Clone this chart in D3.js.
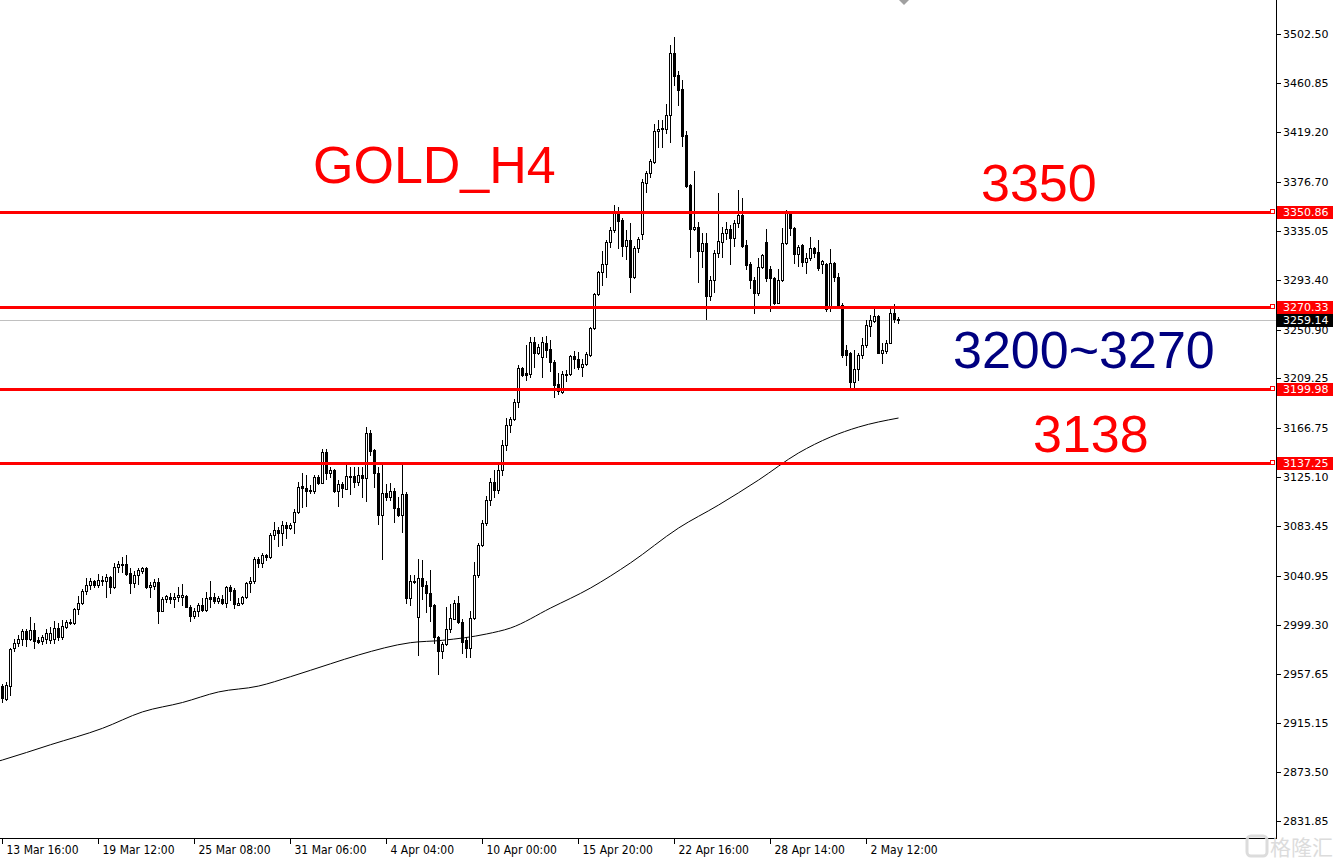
<!DOCTYPE html>
<html><head><meta charset="utf-8">
<script src="https://cdn.jsdelivr.net/npm/d3@7/dist/d3.min.js"></script>
<style>
html,body{margin:0;padding:0;background:#fff;}
svg{display:block;}
</style></head><body>
<svg id="chart" width="1338" height="861"></svg>
<script>
// ---------------- DATA ----------------
const open = [2947.0,2935.9,2947.3,2979.2,2983.4,2987.3,2994.2,2987.3,2994.8,2986.2,2985.2,2986.8,2986.2,2986.8,2996.5,2989.1,2997.6,3000.7,3000.5,3012.4,
3017.5,3027.8,3032.9,3036.3,3032.9,3037.4,3036.3,3039.7,3031.7,3048.2,3050.4,3051.0,3043.1,3035.1,3041.4,3045.3,3047.6,3031.2,3032.5,3035.7,
3011.2,3020.9,3022.6,3021.5,3022.6,3023.2,3023.7,3014.6,3006.7,3011.0,3015.8,3011.8,3022.6,3022.6,3019.7,3021.5,3018.0,3031.2,3028.9,3016.1,
3017.5,3022.6,3034.6,3036.3,3055.0,3052.1,3058.4,3056.7,3075.5,3080.0,3077.2,3084.0,3081.5,3087.1,3095.1,3117.5,3115.6,3113.0,3113.3,3124.9,
3120.3,3146.3,3128.3,3131.2,3113.5,3119.0,3115.2,3124.9,3126.0,3121.2,3126.9,3124.1,3162.4,3148.2,3128.9,3092.8,3111.3,3107.9,3113.3,3098.5,
3092.8,3110.7,3022.3,3035.7,3005.6,3038.8,3033.1,3026.6,3016.1,2988.5,2977.1,2982.8,2995.3,3004.4,3018.0,3001.8,2986.2,2979.2,3005.0,3041.7,
3067.2,3086.3,3105.6,3120.9,3114.1,3131.2,3152.5,3169.5,3174.4,3189.4,3217.9,3214.1,3213.0,3240.0,3230.6,3227.2,3239.2,3234.0,3223.5,3204.5,
3197.9,3212.4,3213.0,3228.3,3225.5,3219.2,3221.5,3229.2,3252.0,3280.9,3299.7,3306.8,3325.5,3335.8,3351.4,3344.3,3322.1,3327.2,3295.9,3320.2,
3332.1,3376.1,3384.6,3394.0,3420.2,3421.6,3421.9,3433.8,3486.4,3467.9,3455.7,3416.7,3374.1,3336.4,3338.1,3318.1,3324.4,3279.5,3293.1,3315.9,
3325.8,3332.9,3336.4,3328.7,3341.5,3348.6,3323.0,3306.8,3293.1,3282.3,3303.9,3325.8,3302.3,3294.6,3273.8,3293.1,3324.4,3350.0,3337.2,3315.3,
3323.0,3308.7,3311.6,3320.2,3317.3,3306.8,3306.8,3269.0,3307.4,3295.4,3271.8,3233.5,3230.6,3206.3,3217.0,3229.0,3237.7,3253.9,3258.4,3262.4,
3231.2,3232.8,3239.7,3264.7,3259.8];
const high = [2948.7,2950.7,2979.7,2986.8,2990.5,2995.3,2995.3,3005.6,3000.5,2989.1,2990.5,2995.3,2997.1,3002.4,3000.5,3003.3,3003.3,3004.1,3013.5,3023.7,
3029.5,3039.1,3039.1,3037.4,3042.5,3040.8,3042.5,3040.8,3052.1,3053.3,3057.3,3058.7,3047.4,3045.3,3047.4,3048.2,3048.2,3035.7,3038.0,3038.8,
3023.2,3024.6,3026.6,3026.1,3031.7,3033.8,3024.6,3016.1,3013.3,3017.5,3021.8,3027.4,3036.5,3026.6,3023.7,3024.6,3032.3,3032.9,3030.3,3021.8,
3023.7,3036.0,3040.3,3057.3,3057.3,3060.1,3059.5,3077.2,3087.1,3082.8,3087.9,3087.1,3085.7,3097.9,3120.7,3128.3,3126.9,3118.4,3126.9,3126.9,
3148.8,3148.8,3134.0,3132.0,3122.6,3121.2,3136.9,3134.0,3134.0,3134.0,3134.0,3167.6,3165.3,3148.8,3134.0,3136.9,3119.2,3119.8,3115.6,3108.4,
3136.9,3112.7,3041.7,3041.7,3055.0,3054.4,3036.8,3045.9,3016.9,2989.7,2984.8,3014.6,3016.9,3020.3,3023.7,3003.9,2988.5,3011.2,3053.0,3069.2,
3088.5,3109.0,3124.3,3131.2,3135.4,3156.7,3175.2,3176.6,3191.4,3220.7,3219.2,3237.7,3244.8,3244.8,3238.6,3244.3,3245.4,3242.0,3224.9,3213.6,
3215.8,3216.4,3229.2,3232.9,3232.0,3225.5,3231.8,3253.3,3282.3,3301.1,3318.1,3327.2,3338.6,3357.1,3355.1,3345.7,3335.8,3342.0,3322.1,3329.5,
3379.0,3386.3,3396.0,3425.9,3429.5,3429.5,3443.2,3493.5,3500.0,3471.6,3463.6,3420.4,3375.0,3386.3,3342.8,3333.5,3333.5,3296.5,3318.7,3367.6,
3338.6,3342.8,3340.0,3344.3,3369.9,3362.8,3327.2,3308.7,3295.9,3311.6,3315.3,3336.4,3305.0,3295.9,3302.3,3337.2,3352.8,3352.0,3338.5,3323.0,
3323.8,3315.9,3329.5,3321.5,3327.2,3310.2,3307.4,3319.3,3308.7,3298.8,3273.3,3237.7,3231.8,3233.5,3230.6,3243.4,3259.0,3263.3,3268.2,3263.3,
3239.2,3242.0,3269.0,3272.7,3261.3];
const low = [2933.6,2935.1,2939.4,2977.1,2981.1,2982.2,2981.1,2986.2,2979.1,2983.4,2982.8,2983.4,2984.0,2983.4,2986.2,2987.3,2996.5,2999.9,3000.0,3008.4,
3016.9,3025.5,3029.5,3031.2,3031.2,3033.1,3023.2,3026.3,3030.3,3044.2,3044.2,3041.4,3026.6,3031.2,3034.0,3043.6,3030.6,3022.6,3029.7,3000.5,
3011.0,3018.9,3018.0,3014.6,3019.7,3016.1,3014.0,3002.7,3005.0,3006.7,3011.0,3011.2,3014.6,3018.0,3018.0,3016.9,3014.1,3020.3,3013.3,3015.8,
3016.9,3022.0,3027.4,3034.6,3048.7,3048.2,3054.4,3055.9,3072.1,3066.4,3067.3,3072.9,3080.6,3077.2,3094.3,3099.9,3100.5,3111.3,3111.8,3119.5,
3119.8,3123.5,3124.9,3112.8,3100.5,3107.9,3114.7,3110.7,3116.9,3118.4,3108.4,3105.0,3143.9,3116.9,3085.1,3055.0,3105.6,3105.6,3087.1,3092.0,
3078.6,3018.0,3016.1,3034.6,2973.4,3020.9,3010.3,3002.7,2983.4,2957.2,2970.6,2982.0,2993.3,3003.9,3001.0,2975.4,2971.5,2971.5,3003.9,3040.2,
3066.4,3084.3,3101.3,3108.2,3111.6,3126.9,3148.2,3163.6,3173.8,3185.1,3211.3,3207.9,3210.7,3219.2,3230.1,3210.2,3227.8,3215.8,3193.6,3195.9,
3197.0,3207.3,3212.2,3217.9,3217.0,3211.6,3220.4,3228.5,3251.1,3280.3,3288.9,3295.9,3321.0,3334.3,3320.2,3313.6,3311.3,3283.2,3294.6,3317.3,
3327.8,3368.4,3380.7,3393.1,3406.8,3406.3,3418.2,3411.0,3459.4,3442.3,3407.4,3372.5,3313.0,3335.5,3291.8,3304.5,3259.6,3276.1,3283.2,3313.0,
3313.0,3327.8,3306.8,3322.1,3338.6,3321.5,3302.3,3286.1,3264.7,3280.3,3303.1,3292.0,3266.9,3273.0,3273.3,3292.5,3323.8,3331.5,3307.4,3305.1,
3305.1,3299.3,3310.2,3313.0,3301.6,3299.3,3266.9,3266.9,3292.5,3269.0,3227.8,3220.7,3201.6,3200.8,3207.9,3226.4,3235.7,3245.4,3257.6,3230.6,
3222.6,3230.6,3239.2,3257.6,3256.7];
const close = [2936.5,2947.6,2978.6,2983.4,2987.3,2993.6,2987.3,2994.8,2985.2,2984.8,2988.6,2992.0,2992.5,2996.5,2989.1,2998.2,3001.6,3001.3,3012.4,3018.0,
3027.8,3032.9,3036.3,3032.9,3037.4,3036.3,3039.7,3031.7,3048.2,3051.0,3051.0,3042.5,3035.1,3041.7,3045.9,3047.4,3031.2,3033.1,3035.7,3011.2,
3021.5,3023.7,3021.5,3022.6,3024.6,3024.6,3014.6,3006.7,3011.0,3015.8,3011.8,3021.8,3020.9,3019.7,3021.8,3018.0,3031.2,3028.3,3016.7,3018.0,
3022.6,3034.6,3036.3,3055.0,3052.1,3058.4,3056.7,3075.5,3080.0,3077.2,3084.0,3081.5,3084.0,3095.1,3116.9,3115.6,3113.5,3114.1,3124.9,3120.3,
3146.8,3128.3,3131.2,3113.5,3119.0,3115.6,3126.0,3126.0,3121.2,3126.9,3124.1,3162.4,3147.6,3128.9,3092.8,3111.3,3107.9,3113.3,3098.5,3092.8,
3110.7,3022.3,3036.8,3036.8,3038.8,3032.3,3026.1,3015.2,2988.5,2977.1,2982.8,2995.3,3004.7,3018.0,3001.8,2984.8,2979.2,3005.0,3041.7,3067.2,
3086.3,3105.6,3120.9,3114.1,3131.2,3152.5,3169.5,3174.4,3189.4,3217.9,3212.2,3212.2,3240.0,3230.6,3236.3,3240.0,3233.5,3223.5,3203.6,3198.8,
3213.0,3213.0,3228.3,3225.5,3219.2,3221.5,3230.1,3252.5,3281.2,3300.2,3306.8,3325.5,3335.8,3351.4,3343.7,3322.1,3327.2,3295.9,3320.2,3327.8,
3377.0,3384.6,3394.6,3420.2,3421.9,3422.7,3433.8,3486.4,3467.3,3455.1,3415.9,3373.3,3336.4,3338.1,3318.1,3324.4,3279.5,3293.1,3315.9,3326.6,
3333.5,3336.4,3328.7,3341.5,3348.6,3322.1,3305.9,3293.1,3282.3,3303.9,3314.4,3294.6,3294.6,3273.8,3293.1,3324.4,3350.0,3337.2,3315.3,3321.5,
3308.7,3311.6,3320.2,3316.4,3303.1,3309.6,3268.1,3307.4,3295.4,3271.8,3229.2,3229.2,3206.3,3217.0,3229.0,3237.7,3254.8,3259.0,3262.4,3231.2,
3233.5,3239.7,3264.7,3259.6,3259.14];

// moving average at selected bars
const maIndex = [-1,0,12,25,35,45,54,64,72,82,89,102,110,121,127,137,147,157,169,179,189,199,207,214,224];
const maValue = [2883.0,2884.0,2897.0,2911.0,2925.0,2933.0,2942.0,2947.0,2955.0,2966.0,2973.5,2984.0,2986.0,2991.4,2996.5,3013.5,3030.6,3052.0,3081.7,3101.3,3122.6,3145.7,3159.3,3167.8,3175.5];

const priceTicks = [3502.50,3460.85,3419.20,3376.70,3335.05,3293.40,3250.90,3209.25,3166.75,3125.10,3083.45,3040.95,2999.30,2957.65,2915.15,2873.50,2831.85];
const timeTickIndex = [0,24,48,72,96,120,144,168,192,216];
const timeTickLabels = ["13 Mar 16:00","19 Mar 12:00","25 Mar 08:00","31 Mar 06:00","4 Apr 04:00","10 Apr 00:00","15 Apr 20:00","22 Apr 16:00","28 Apr 14:00","2 May 12:00"];
const levels = [3350.86,3270.33,3199.98,3137.25];
const lastPrice = 3259.14;
const titleText = "GOLD_H4";
const noteTexts = ["3350","3200~3270","3138"];

// ---------------- LAYOUT ----------------
const W = 1338, H = 861;
const plotRight = 1276, plotBottom = 838;
const svg = d3.select("#chart");
svg.append("rect").attr("width",W).attr("height",H).attr("fill","#fff");

const x = d3.scaleLinear().domain([0,224]).range([2.5, 898.5]);
const y = d3.scaleLinear().domain([3199.98, 3350.86]).range([389.3, 212.3]);
const Y = p => Math.round(y(p));

svg.append("defs").append("clipPath").attr("id","plot")
  .append("rect").attr("x",0).attr("y",0).attr("width",plotRight).attr("height",plotBottom);

const g = svg.append("g").attr("clip-path","url(#plot)");

// bid line
g.append("line").attr("x1",0).attr("x2",plotRight).attr("y1",Y(lastPrice)+0.5).attr("y2",Y(lastPrice)+0.5)
  .attr("stroke","#c0c0c0").attr("stroke-width",1);

// moving average
const maPts = maIndex.map((d,i)=>[d, maValue[i]]);
g.append("path").datum(maPts)
  .attr("d", d3.line().x(d=>x(d[0])).y(d=>y(d[1])).curve(d3.curveMonotoneX))
  .attr("fill","none").attr("stroke","#000").attr("stroke-width",1);

// candles
const bars = open.map((o,i)=>({i, o, h:Math.max(high[i],o,close[i]), l:Math.min(low[i],o,close[i]), c:close[i]}));
const cg = g.append("g").attr("shape-rendering","crispEdges");
bars.forEach(b=>{
  const cx = x(b.i);
  cg.append("line").attr("x1",cx).attr("x2",cx).attr("y1",Y(b.h)).attr("y2",Y(b.l)+1)
    .attr("stroke","#000").attr("stroke-width",1);
  const top = Y(Math.max(b.o,b.c)), bot = Y(Math.min(b.o,b.c));
  if (bot - top < 1) {
    cg.append("rect").attr("x",cx-1.5).attr("y",top).attr("width",3).attr("height",1).attr("fill","#000");
  } else if (b.c < b.o) {
    cg.append("rect").attr("x",cx-1.5).attr("y",top).attr("width",3).attr("height",bot-top+1).attr("fill","#000");
  } else {
    cg.append("rect").attr("x",cx-1).attr("y",top+0.5).attr("width",2).attr("height",bot-top)
      .attr("fill","#fff").attr("stroke","#000").attr("stroke-width",1);
  }
});

// horizontal level lines
levels.forEach(v=>{
  const yy = Y(v)+0.5;
  g.append("line").attr("x1",0).attr("x2",1271).attr("y1",yy).attr("y2",yy)
    .attr("stroke","#ff0000").attr("stroke-width",3).attr("shape-rendering","crispEdges");
});

// ---------------- AXES ----------------
const axisG = svg.append("g").attr("shape-rendering","crispEdges");
axisG.append("line").attr("x1",plotRight+0.5).attr("x2",plotRight+0.5).attr("y1",0).attr("y2",plotBottom+1).attr("stroke","#000");
axisG.append("line").attr("x1",0).attr("x2",plotRight+1).attr("y1",plotBottom+0.5).attr("y2",plotBottom+0.5).attr("stroke","#000");

const priceFont = "'DejaVu Sans', Verdana, sans-serif";
priceTicks.forEach(v=>{
  const yy = Y(v)+0.5;
  axisG.append("line").attr("x1",plotRight+1).attr("x2",plotRight+5).attr("y1",yy).attr("y2",yy).attr("stroke","#000");
  svg.append("text").attr("x",1283).attr("y",yy).attr("dy","0.36em")
    .attr("font-family",priceFont).attr("font-size",11).attr("fill","#000").text(v.toFixed(2));
});

timeTickIndex.forEach((idx,k)=>{
  const xx = Math.floor(x(idx))+0.5;
  axisG.append("line").attr("x1",xx).attr("x2",xx).attr("y1",plotBottom+1).attr("y2",plotBottom+6).attr("stroke","#000");
  svg.append("text").attr("x",xx+4).attr("y",854)
    .attr("font-family","'Liberation Sans Narrow','DejaVu Sans Condensed',sans-serif").attr("font-size",12)
    .attr("fill","#000").text(timeTickLabels[k]);
});

// level labels on the price axis
function axisLabel(v, bg){
  const yy = Y(v);
  svg.append("rect").attr("x",1277).attr("y",yy-6).attr("width",56).attr("height",13).attr("fill",bg);
  svg.append("text").attr("x",1283).attr("y",yy+0.5).attr("dy","0.36em")
    .attr("font-family",priceFont).attr("font-size",11).attr("fill","#fff").text(v.toFixed(2));
}
levels.forEach(v=>{
  axisLabel(v,"#ff0000");
  const yy = Y(v);
  svg.append("rect").attr("x",1270.5).attr("y",yy-2.5).attr("width",4).attr("height",4)
    .attr("fill","#fff").attr("stroke","#ff0000").attr("stroke-width",1).attr("shape-rendering","crispEdges");
});
axisLabel(lastPrice,"#000");

// chart shift marker
svg.append("path").attr("d","M899,0 L909,0 L904,5 Z").attr("fill","#a0a0a0");

// ---------------- ANNOTATIONS ----------------
const bigFont = "'Liberation Sans', Arial, sans-serif";
svg.append("text").attr("x",313).attr("y",183).attr("font-family",bigFont).attr("font-size",52)
  .attr("fill","#ff0000").text(titleText);
svg.append("text").attr("x",981).attr("y",201).attr("font-family",bigFont).attr("font-size",52)
  .attr("fill","#ff0000").text(noteTexts[0]);
svg.append("text").attr("x",953).attr("y",368).attr("font-family",bigFont).attr("font-size",52)
  .attr("fill","#000080").text(noteTexts[1]);
svg.append("text").attr("x",1033).attr("y",452).attr("font-family",bigFont).attr("font-size",52)
  .attr("fill","#ff0000").text(noteTexts[2]);

// watermark
const wm = svg.append("g").attr("opacity",0.9);
wm.append("rect").attr("x",1247).attr("y",836).attr("width",20).attr("height",20).attr("rx",4)
  .attr("fill","none").attr("stroke","#d9d9d9").attr("stroke-width",3);
wm.append("text").attr("x",1270).attr("y",855).attr("font-family","'Noto Sans CJK SC',sans-serif")
  .attr("font-size",21).attr("fill","#d9d9d9").text("格隆汇");
</script>
</body></html>
